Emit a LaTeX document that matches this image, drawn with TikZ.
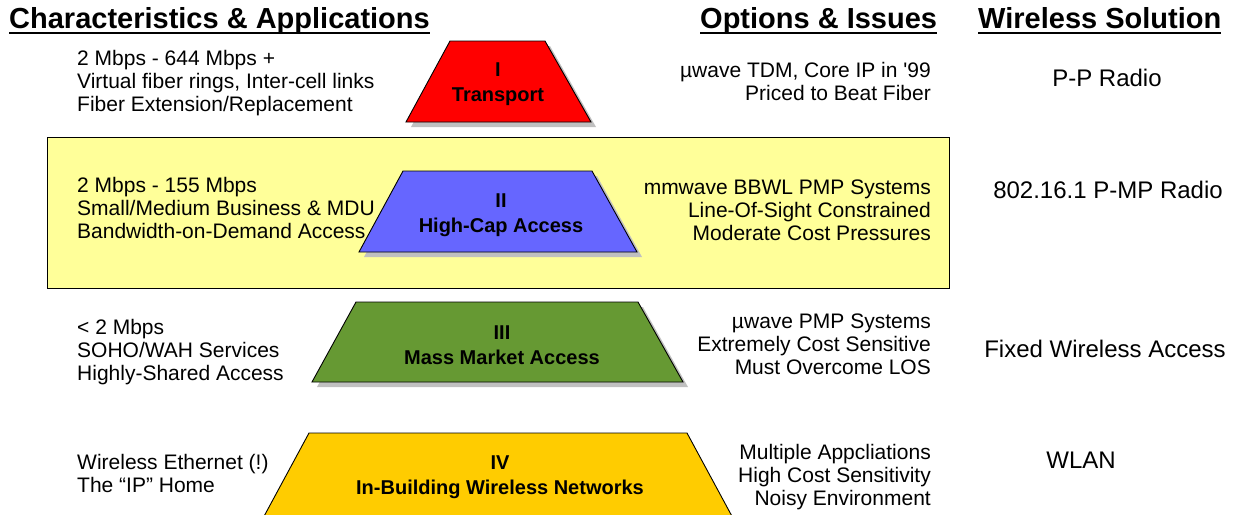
\documentclass[tikz,border=0pt]{standalone}
\usepackage{fontspec}
\setmainfont{Liberation Sans}
\definecolor{tred}{HTML}{FF0000}
\definecolor{tblue}{HTML}{6666FF}
\definecolor{tgreen}{HTML}{669933}
\definecolor{tgold}{HTML}{FFCC00}
\definecolor{tyellow}{HTML}{FFFF99}
\definecolor{shadowgray}{HTML}{C0C0C0}
\begin{document}
\begin{tikzpicture}[x=1pt,y=-1pt,
  header/.style={font=\fontsize{29}{32}\selectfont\bfseries, inner sep=0pt, anchor=base west},
  uline/.style={line width=2.5pt},
  bodyl/.style={font=\fontsize{21}{23}\selectfont, inner sep=0pt, align=left, anchor=north west},
  bodyr/.style={font=\fontsize{21}{23}\selectfont, inner sep=0pt, align=right, anchor=north east},
  sol/.style={font=\fontsize{24}{28}\selectfont, inner sep=0pt, anchor=base},
  traplabel/.style={font=\fontsize{20}{25.5}\selectfont\bfseries, inner sep=0pt, align=center, anchor=north},
  trapbox/.style={draw=black, line width=0.9pt},
  trapshadow/.style={fill=shadowgray, shift={(5,5)}}
]
\useasboundingbox (0,0) rectangle (1233,514);
\fill[white] (0,0) rectangle (1233,514);

% headers
\node[header] (hchar) at (9,28) {Characteristics \& Applications};
\node[header] (hopt) at (700,28) {Options \& Issues};
\node[header] (hsol) at (978,28) {Wireless Solution};
\draw[uline] ([yshift=-5pt]hchar.base west) -- ([yshift=-5pt]hchar.base east);
\draw[uline] ([yshift=-5pt]hopt.base west) -- ([yshift=-5pt]hopt.base east);
\draw[uline] ([yshift=-5pt]hsol.base west) -- ([yshift=-5pt]hsol.base east);

% yellow band
\draw[fill=tyellow, line width=0.8pt] (47,137) rectangle (949,288);

% left texts
\node[bodyl] (l1) at (77,58-8.8) {\strut 2 Mbps - 644 Mbps +\\Virtual fiber rings, Inter-cell links\\Fiber Extension/Replacement};
\node[bodyl] (l2) at (77,185-8.8) {\strut 2 Mbps - 155 Mbps\\Small/Medium Business \& MDU\\Bandwidth-on-Demand Access};
\node[bodyl] (l3) at (77,327-8.8) {\strut < 2 Mbps\\SOHO/WAH Services\\Highly-Shared Access};
\node[bodyl] (l4) at (77,462-8.8) {\strut Wireless Ethernet (!)\\The “IP” Home};

% right texts
\node[bodyr] (r1) at (931,70-8.8) {\strut µwave TDM, Core IP in \textquotesingle 99\\Priced to Beat Fiber};
\node[bodyr] (r2) at (931,187-8.8) {\strut mmwave BBWL PMP Systems\\Line-Of-Sight Constrained\\Moderate Cost Pressures};
\node[bodyr] (r3) at (931,321-8.8) {\strut µwave PMP Systems\\Extremely Cost Sensitive\\Must Overcome LOS};
\node[bodyr] (r4) at (931,452-8.8) {\strut Multiple Appcliations\\High Cost Sensitivity\\Noisy Environment};

% wireless solutions
\node[sol] (s1) at (1107,86.6) {P-P Radio};
\node[sol] (s2) at (1108,198.6) {802.16.1 P-MP Radio};
\node[sol] (s3) at (1105,357.6) {Fixed Wireless Access};
\node[sol] (s4) at (1081,468.6) {WLAN};

% trapezoids
\fill[trapshadow] (450,41) -- (545,41) -- (591,122) -- (406,122) -- cycle;
\draw[trapbox, fill=tred] (450,41) -- (545,41) -- (591,122) -- (406,122) -- cycle;
\fill[trapshadow] (403,171) -- (592,171) -- (637,252) -- (359,252) -- cycle;
\draw[trapbox, fill=tblue] (403,171) -- (592,171) -- (637,252) -- (359,252) -- cycle;
\fill[trapshadow] (356,302) -- (638,302) -- (683,382) -- (312,382) -- cycle;
\draw[trapbox, fill=tgreen] (356,302) -- (638,302) -- (683,382) -- (312,382) -- cycle;
\begin{scope}
\clip (0,0) rectangle (1233,514);
\draw[trapbox, fill=tgold] (309,433) -- (687,433) -- (734,520) -- (262,520) -- cycle;
\end{scope}

% trapezoid labels
\node[traplabel] (t1) at (498,69-10.7) {\strut I\\Transport};
\node[traplabel] (t2) at (501,200-10.7) {\strut II\\High-Cap Access};
\node[traplabel] (t3) at (502,332-10.7) {\strut III\\Mass Market Access};
\node[traplabel] (t4) at (500,462-10.7) {\strut IV\\In-Building Wireless Networks};
\end{tikzpicture}
\end{document}
